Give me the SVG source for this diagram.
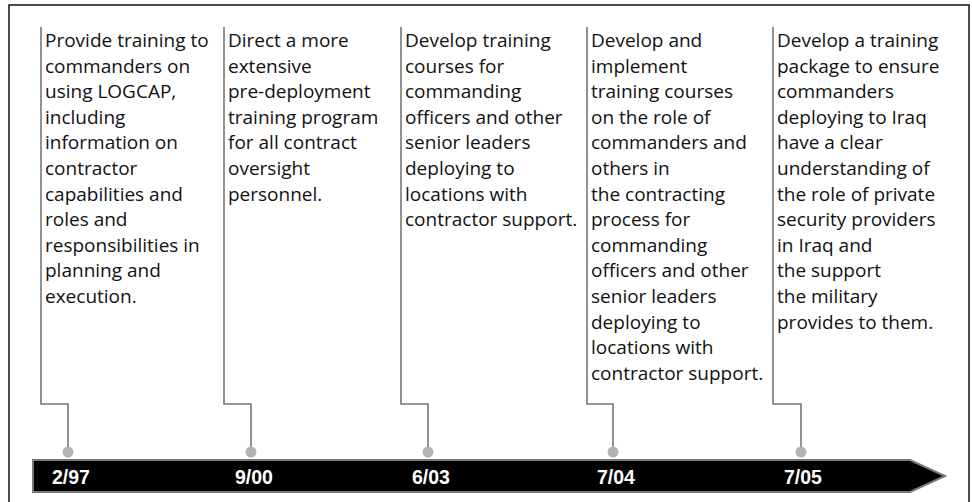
<svg xmlns="http://www.w3.org/2000/svg" width="972" height="502" viewBox="0 0 972 502">
<style>
.t{font-family:"Open Sans","Noto Sans",sans-serif;font-size:19px;fill:#111}
.d{font-family:"Liberation Sans",Arial,sans-serif;font-size:19.5px;font-weight:bold;fill:#fff}
.c{fill:none;stroke:#777;stroke-width:1.6}
.dot{fill:#b3b3b3}
</style>
<rect x="0" y="0" width="972" height="502" fill="#fff"/>
<rect x="9" y="5" width="960" height="510" fill="none" stroke="#111" stroke-width="1.5"/>
<g id="connectors">
<path class="c" d="M41,27 V404 H68 V447"/>
<path class="c" d="M224,27 V404 H251 V447"/>
<path class="c" d="M401,27 V404 H428 V447"/>
<path class="c" d="M587,27 V404 H613 V447"/>
<path class="c" d="M773,27 V404 H801 V447"/>
</g>
<g id="timeline">
<path d="M33,460 H910 L945,476 L910,492 H33 Z" fill="#000" stroke="#777" stroke-width="2"/>
</g>
<g id="n1">
<circle class="dot" cx="68" cy="452" r="5.5"/>
<text class="d" x="52" y="484">2/97</text>
<text class="t" x="45" y="47"><tspan x="45">Provide training to</tspan><tspan x="45" dy="25.6">commanders on</tspan><tspan x="45" dy="25.6">using LOGCAP,</tspan><tspan x="45" dy="25.6">including</tspan><tspan x="45" dy="25.6">information on</tspan><tspan x="45" dy="25.6">contractor</tspan><tspan x="45" dy="25.6">capabilities and</tspan><tspan x="45" dy="25.6">roles and</tspan><tspan x="45" dy="25.6">responsibilities in</tspan><tspan x="45" dy="25.6">planning and</tspan><tspan x="45" dy="25.6">execution.</tspan></text>
</g>
<g id="n2">
<circle class="dot" cx="251" cy="452" r="5.5"/>
<text class="d" x="235" y="484">9/00</text>
<text class="t" x="228" y="47"><tspan x="228">Direct a more</tspan><tspan x="228" dy="25.6">extensive</tspan><tspan x="228" dy="25.6">pre-deployment</tspan><tspan x="228" dy="25.6">training program</tspan><tspan x="228" dy="25.6">for all contract</tspan><tspan x="228" dy="25.6">oversight</tspan><tspan x="228" dy="25.6">personnel.</tspan></text>
</g>
<g id="n3">
<circle class="dot" cx="428" cy="452" r="5.5"/>
<text class="d" x="412" y="484">6/03</text>
<text class="t" x="405" y="47"><tspan x="405">Develop training</tspan><tspan x="405" dy="25.6">courses for</tspan><tspan x="405" dy="25.6">commanding</tspan><tspan x="405" dy="25.6">officers and other</tspan><tspan x="405" dy="25.6">senior leaders</tspan><tspan x="405" dy="25.6">deploying to</tspan><tspan x="405" dy="25.6">locations with</tspan><tspan x="405" dy="25.6">contractor support.</tspan></text>
</g>
<g id="n4">
<circle class="dot" cx="613" cy="452" r="5.5"/>
<text class="d" x="597" y="484">7/04</text>
<text class="t" x="591" y="47"><tspan x="591">Develop and</tspan><tspan x="591" dy="25.6">implement</tspan><tspan x="591" dy="25.6">training courses</tspan><tspan x="591" dy="25.6">on the role of</tspan><tspan x="591" dy="25.6">commanders and</tspan><tspan x="591" dy="25.6">others in</tspan><tspan x="591" dy="25.6">the contracting</tspan><tspan x="591" dy="25.6">process for</tspan><tspan x="591" dy="25.6">commanding</tspan><tspan x="591" dy="25.6">officers and other</tspan><tspan x="591" dy="25.6">senior leaders</tspan><tspan x="591" dy="25.6">deploying to</tspan><tspan x="591" dy="25.6">locations with</tspan><tspan x="591" dy="25.6">contractor support.</tspan></text>
</g>
<g id="n5">
<circle class="dot" cx="801" cy="452" r="5.5"/>
<text class="d" x="784" y="484">7/05</text>
<text class="t" x="777" y="47"><tspan x="777">Develop a training</tspan><tspan x="777" dy="25.6">package to ensure</tspan><tspan x="777" dy="25.6">commanders</tspan><tspan x="777" dy="25.6">deploying to Iraq</tspan><tspan x="777" dy="25.6">have a clear</tspan><tspan x="777" dy="25.6">understanding of</tspan><tspan x="777" dy="25.6">the role of private</tspan><tspan x="777" dy="25.6">security providers</tspan><tspan x="777" dy="25.6">in Iraq and</tspan><tspan x="777" dy="25.6">the support</tspan><tspan x="777" dy="25.6">the military</tspan><tspan x="777" dy="25.6">provides to them.</tspan></text>
</g>
</svg>
